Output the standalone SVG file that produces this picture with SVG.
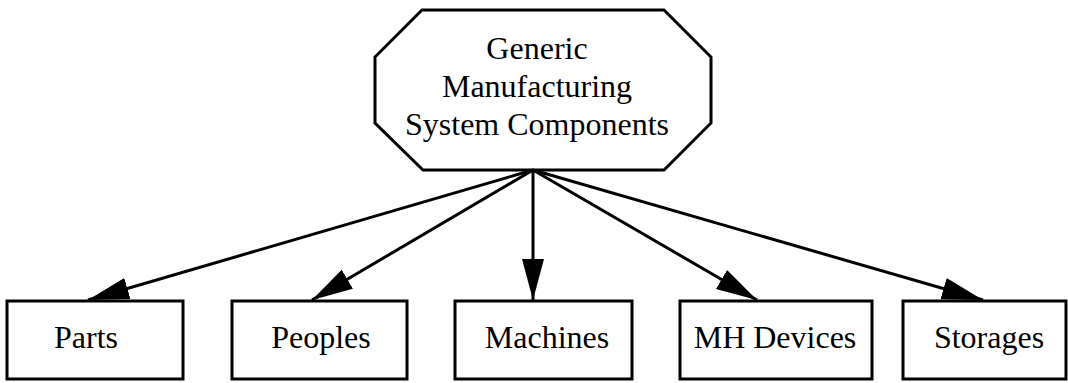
<svg xmlns="http://www.w3.org/2000/svg" width="1068" height="383" viewBox="0 0 1068 383">
  <style>
    .shape { fill: #ffffff; stroke: #000000; stroke-width: 3; }
    .label { font-family: "Liberation Serif", "Times New Roman", serif; font-size: 32px; fill: #000000; text-anchor: middle; }
    .edge { stroke: #000000; stroke-width: 3; fill: none; marker-end: url(#head); }
  </style>
  <defs>
    <marker id="head" markerUnits="userSpaceOnUse" markerWidth="42" markerHeight="24" viewBox="0 0 42 24" refX="41" refY="12" orient="auto">
      <path d="M0,1 L41,12 L0,23 Z" fill="#000000"/>
    </marker>
  </defs>
  <rect width="1068" height="383" fill="#ffffff"/>

  <g id="components">
    <polygon class="shape" points="422,10 664,10 711,57 711,123 664,170 423,170 375,123 375,57"/>
    <text class="label" x="537" y="59">Generic</text>
    <text class="label" x="537" y="97">Manufacturing</text>
    <text class="label" x="537" y="135">System Components</text>
  </g>

  <g id="parts">
    <rect class="shape" x="7" y="301" width="176" height="78"/>
    <text class="label" x="86" y="348">Parts</text>
  </g>

  <g id="peoples">
    <rect class="shape" x="232" y="301" width="175" height="78"/>
    <text class="label" x="321" y="348">Peoples</text>
  </g>

  <g id="machines">
    <rect class="shape" x="455" y="301" width="177" height="78"/>
    <text class="label" x="547" y="348">Machines</text>
  </g>

  <g id="mh-devices">
    <rect class="shape" x="680" y="301" width="192" height="78"/>
    <text class="label" x="775" y="348">MH Devices</text>
  </g>

  <g id="storages">
    <rect class="shape" x="903" y="301" width="163" height="78"/>
    <text class="label" x="989" y="348">Storages</text>
  </g>

  <g id="connectors">
    <line class="edge" x1="533" y1="170" x2="88" y2="300"/>
    <line class="edge" x1="533" y1="170" x2="312" y2="300"/>
    <line class="edge" x1="533" y1="170" x2="533" y2="300"/>
    <line class="edge" x1="533" y1="170" x2="757" y2="300"/>
    <line class="edge" x1="533" y1="170" x2="983" y2="300"/>
  </g>
</svg>
